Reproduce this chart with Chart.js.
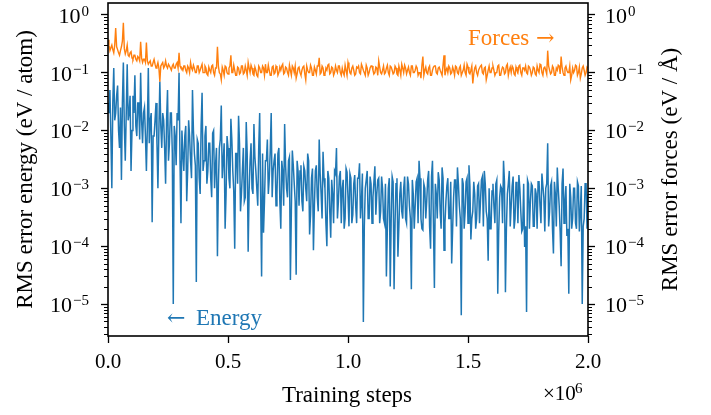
<!DOCTYPE html>
<html>
<head>
<meta charset="utf-8">
<script src="https://cdn.jsdelivr.net/npm/chart.js@4/dist/chart.umd.min.js"></script>
<style>
  html, body { margin: 0; padding: 0; background: #fff; }
  canvas { display: block; }
</style>
</head>
<body>
<canvas id="chart" width="711" height="415"></canvas>
<script>
// training step (in thousands) at which each error was recorded
const stepsK = [
  0,4,8,12,16,20,24,28,32,36,40,44,48,52,56,60,64,68,72,76,
  80,84,88,92,96,100,104,108,112,116,120,124,128,132,136,140,144,148,152,156,
  160,164,168,172,176,180,184,188,192,196,200,204,208,212,216,220,224,228,232,236,
  240,244,248,252,256,260,264,268,272,276,280,284,288,292,296,300,304,308,312,316,
  320,324,328,332,336,340,344,348,352,356,360,364,368,372,376,380,384,388,392,396,
  400,404,408,412,416,420,424,428,432,436,440,444,448,452,456,460,464,468,472,476,
  480,484,488,492,496,500,504,508,512,516,520,524,528,532,536,540,544,548,552,556,
  560,564,568,572,576,580,584,588,592,596,600,604,608,612,616,620,624,628,632,636,
  640,644,648,652,656,660,664,668,672,676,680,684,688,692,696,700,704,708,712,716,
  720,724,728,732,736,740,744,748,752,756,760,764,768,772,776,780,784,788,792,796,
  800,804,808,812,816,820,824,828,832,836,840,844,848,852,856,860,864,868,872,876,
  880,884,888,892,896,900,904,908,912,916,920,924,928,932,936,940,944,948,952,956,
  960,964,968,972,976,980,984,988,992,996,1000,1004,1008,1012,1016,1020,1024,1028,1032,1036,
  1040,1044,1048,1052,1056,1060,1064,1068,1072,1076,1080,1084,1088,1092,1096,1100,1104,1108,1112,1116,
  1120,1124,1128,1132,1136,1140,1144,1148,1152,1156,1160,1164,1168,1172,1176,1180,1184,1188,1192,1196,
  1200,1204,1208,1212,1216,1220,1224,1228,1232,1236,1240,1244,1248,1252,1256,1260,1264,1268,1272,1276,
  1280,1284,1288,1292,1296,1300,1304,1308,1312,1316,1320,1324,1328,1332,1336,1340,1344,1348,1352,1356,
  1360,1364,1368,1372,1376,1380,1384,1388,1392,1396,1400,1404,1408,1412,1416,1420,1424,1428,1432,1436,
  1440,1444,1448,1452,1456,1460,1464,1468,1472,1476,1480,1484,1488,1492,1496,1500,1504,1508,1512,1516,
  1520,1524,1528,1532,1536,1540,1544,1548,1552,1556,1560,1564,1568,1572,1576,1580,1584,1588,1592,1596,
  1600,1604,1608,1612,1616,1620,1624,1628,1632,1636,1640,1644,1648,1652,1656,1660,1664,1668,1672,1676,
  1680,1684,1688,1692,1696,1700,1704,1708,1712,1716,1720,1724,1728,1732,1736,1740,1744,1748,1752,1756,
  1760,1764,1768,1772,1776,1780,1784,1788,1792,1796,1800,1804,1808,1812,1816,1820,1824,1828,1832,1836,
  1840,1844,1848,1852,1856,1860,1864,1868,1872,1876,1880,1884,1888,1892,1896,1900,1904,1908,1912,1916,
  1920,1924,1928,1932,1936,1940,1944,1948,1952,1956,1960,1964,1968,1972,1976,1980,1984,1988,1992,1996,
  2000
];

// RMS error of the energy (eV / atom)
const energyErr = [
  3e-2,2e-2, 5e-2,8e-3, 1e-3,3e-2, 1.2e-1,1.5e-2, 2e-2,4e-2, 6e-2,1e-2, 5e-3,2.5e-2, 1.4e-3,3e-2, 1.5e-1,1.2e-2, 3e-3,2e-2,
  1.4e-1,1.5e-2, 2e-2,4e-2, 2e-3,1e-2, 4e-2,2e-2, 9e-2,1.2e-2, 8e-3,3e-2, 3e-2,7e-3, 1e-1,1.5e-2, 6e-3,2e-2, 2.5e-2,8e-3,
  2e-3,1.2e-2, 1.2e-1,6e-3, 1.5e-2,2e-2, 2.6e-4,8e-3, 8e-3,1.5e-2, 3e-2,6e-3, 1e-3,1e-2, 7e-2,1.2e-2, 5e-3,2e-2, 1.5e-2,5e-3,
  1.2e-3,1.5e-2, 5e-2,3e-3, 6e-3,2e-2, 2e-2,4e-3, 1e-5,1.2e-2, 8e-3,2.5e-3, 2e-2,1.5e-2, 1e-1,3e-3, 2.5e-4,1e-2, 4e-3,2e-3,
  8e-3,1.2e-2, 6e-4,2e-3, 1.5e-2,8e-3, 3e-3,1.5e-3, 5e-2,1e-2, 4e-3,2.5e-3, 2.4e-5,7e-3, 6e-3,1.5e-3, 8e-4,1.2e-2, 4.5e-2,2e-3,
  3e-3,8e-3, 1.2e-2,1.2e-3, 2e-3,6e-3, 6e-3,1.5e-3, 7e-4,9e-3, 1e-2,1e-3, 2.5e-3,5e-3, 6.7e-5,1.2e-3, 5e-3,7e-3, 2.7e-2,1.5e-3,
  3e-3,6e-3, 2e-4,8e-4, 8e-3,5e-3, 1.5e-3,1e-3, 1.6e-2,7e-3, 2e-3,9e-4, 9e-5,4e-3, 4e-3,1.2e-3, 1.8e-2,6e-3, 4e-4,8e-4,
  2e-3,5e-3, 6e-4,7e-4, 1.4e-2,4e-3, 8e-5,9e-4, 3e-3,6e-3, 1e-3,8e-4, 1.3e-2,3.5e-3, 2e-3,1e-3, 5e-4,5e-3, 2e-2,7e-4,
  3e-5,4e-3, 1.7e-4,6e-4, 3e-3,3e-3, 7e-3,8e-4, 1.5e-3,4.5e-3, 2e-2,7e-4, 2e-3,3e-3, 4e-3,5e-4, 8e-4,4e-3, 5e-3,6e-4,
  2e-4,3e-3, 2e-3,5e-4, 1.3e-2,2.5e-3, 1e-3,7e-4, 3e-3,3.5e-3, 2.6e-5,4e-4, 4.5e-3,2.5e-3, 1.2e-3,6e-4, 3.2e-5,3e-3, 2e-3,5e-4,
  2e-3,2.5e-3, 6e-4,4e-4, 2.4e-3,2e-3, 1e-3,6e-4, 4e-3,3e-3, 1.6e-4,3.5e-4, 1.5e-3,2.2e-3, 8.5e-5,5e-4, 2e-3,2.5e-3, 7e-4,4e-4,
  7e-3,1.8e-3, 8e-4,3e-4, 4.3e-3,1.5e-3, 1e-3,2.5e-4, 1e-4,2e-3, 1.5e-3,4e-4, 1.4e-4,1.4e-3, 8e-4,2.5e-4, 2e-3,1.8e-3, 5e-3,3e-4,
  6e-4,1.6e-3, 2e-3,2.5e-4, 1e-3,1.4e-3, 2e-4,3e-4, 2.2e-3,1.9e-3, 7e-4,2.2e-4, 1.8e-3,1.5e-3, 2.5e-4,3.5e-4, 1.2e-3,1.7e-3, 5e-4,2.5e-4,
  1.5e-3,1.5e-3, 2.7e-3,3e-4, 6e-4,1.8e-3, 4.9e-6,2.2e-4, 1e-3,1.4e-3, 2e-3,3e-4, 3e-4,1.6e-3, 1.2e-3,2.5e-4, 7e-4,1.3e-3, 2.4e-3,3.5e-4,
  8e-4,1.4e-3, 1.5e-3,2.5e-4, 4e-4,1.6e-3, 1e-3,3e-4, 2.5e-4,1.2e-3, 3e-5,2e-4, 1e-3,1.5e-3, 2e-5,3e-4, 1.6e-3,1.3e-3, 1.8e-5,2.5e-4,
  1.2e-3,1.5e-3, 6.6e-5,2.2e-4, 8e-4,1.3e-3, 4e-4,3e-4, 1e-3,1.6e-3, 3e-4,2.5e-4, 1.6e-3,1.2e-3, 5e-4,3e-4, 1.8e-5,1.4e-3, 8e-4,2e-4,
  5e-4,1.3e-3, 1.5e-3,2.5e-4, 3e-3,1.5e-3, 3e-4,2e-4, 1.9e-4,1.2e-3, 1e-3,3e-4, 6e-4,1.4e-3, 2e-3,2.2e-4, 9e-5,1.6e-3, 3e-3,2.5e-4,
  1.9e-5,1.2e-3, 8e-4,3e-4, 1.9e-3,1.4e-3, 4e-4,2e-4, 2.3e-3,1.5e-3, 8.5e-5,2.5e-4, 6e-4,1.1e-3, 1.5e-3,3e-4, 3e-4,1.3e-3, 5e-5,2e-4,
  7e-4,1.4e-3, 1.4e-3,2.2e-4, 2.3e-3,1.2e-3, 5e-4,3e-4, 6.4e-6,1.5e-3, 1.2e-3,2e-4, 4e-4,1.3e-3, 1.5e-3,2.5e-4, 2.5e-3,1.1e-3, 1.3e-4,3e-4,
  4e-4,1.3e-3, 8e-4,2e-4, 3e-4,1.1e-3, 1.2e-3,2.5e-4, 6e-4,1.4e-3, 1.6e-3,2.2e-4, 2e-3,1.2e-3, 4e-4,3e-4, 5.6e-5,1e-3, 2e-4,2e-4,
  9e-4,1.2e-3, 5e-4,2.5e-4, 1.2e-3,1.4e-3, 1.5e-5,1.8e-4, 7e-4,1.1e-3, 1e-3,2.5e-4, 3e-3,1.3e-3, 1.6e-5,2e-4, 8e-4,1.2e-3, 2e-3,2.2e-4,
  5e-4,1.1e-3, 1.6e-3,2e-4, 3e-4,1.3e-3, 1e-3,2.5e-4, 1.7e-3,1e-3, 4e-4,1.8e-4, 2e-4,1.2e-3, 9.7e-5,2.2e-4, 7.3e-6,1.4e-3, 1.2e-3,2e-4,
  6e-4,1.2e-3, 1.1e-3,2.2e-4, 2.2e-4,1e-3, 8e-4,2e-4, 1.3e-3,1.3e-3, 5e-4,2.5e-4, 1.8e-3,1.1e-3, 7e-4,1.8e-4, 1e-3,1.2e-3, 6e-3,2.2e-4,
  4e-4,1.1e-3, 1.3e-3,2e-4, 7.5e-5,1.3e-3, 8e-4,2.2e-4, 2.3e-3,1e-3, 5e-4,1.8e-4, 4.5e-5,1.2e-3, 2.2e-3,2.5e-4, 6e-4,1.1e-3, 1.5e-4,2e-4,
  1.5e-5,1.2e-3, 7e-4,2e-4, 3e-4,1e-3, 1e-3,2.5e-4, 2e-4,1.3e-3, 1.1e-3,1.8e-4, 4e-4,1.1e-3, 1e-5,2.2e-4, 3e-4,1.2e-3, 1.2e-3,2e-4,
  8e-4
];

// RMS error of the forces (eV / Å)
const forcesErr = [
  0.37,0.3, 0.24,0.27, 0.3,0.25, 0.22,0.3, 0.59,0.28, 0.25,0.22, 0.2,0.24, 0.28,0.35, 0.73,0.26, 0.21,0.24,
  0.3,0.2, 0.19,0.22, 0.23,0.18, 0.17,0.2, 0.2,0.17, 0.16,0.19, 0.18,0.16, 0.34,0.18, 0.15,0.17, 0.17,0.15,
  0.33,0.16, 0.14,0.15, 0.16,0.13, 0.13,0.15, 0.17,0.14, 0.12,0.13, 0.15,0.12, 0.07,0.13, 0.14,0.15, 0.12,0.13,
  0.16,0.13, 0.12,0.14, 0.13,0.12, 0.11,0.13, 0.14,0.12, 0.12,0.14, 0.15,0.12, 0.22,0.13, 0.12,0.12, 0.11,0.13,
  0.13,0.11, 0.1,0.13, 0.12,0.1, 0.15,0.12, 0.11,0.135, 0.12,0.1, 0.1,0.13, 0.13,0.1, 0.11,0.125, 0.14,0.1,
  0.1,0.13, 0.12,0.095, 0.09,0.125, 0.11,0.1, 0.13,0.135, 0.1,0.09, 0.12,0.12, 0.28,0.13, 0.1,0.095, 0.075,0.125,
  0.11,0.09, 0.13,0.125, 0.1,0.095, 0.12,0.13, 0.2,0.1, 0.1,0.135, 0.11,0.09, 0.09,0.125, 0.12,0.095, 0.1,0.13,
  0.13,0.095, 0.1,0.13, 0.11,0.09, 0.15,0.12, 0.1,0.135, 0.12,0.095, 0.09,0.125, 0.11,0.09, 0.085,0.13, 0.12,0.1,
  0.1,0.13, 0.12,0.09, 0.14,0.1, 0.1,0.135, 0.11,0.09, 0.09,0.125, 0.13,0.095, 0.1,0.13, 0.12,0.09, 0.1,0.125,
  0.11,0.13, 0.14,0.095, 0.1,0.125, 0.12,0.1, 0.09,0.135, 0.11,0.09, 0.13,0.12, 0.1,0.13, 0.08,0.095, 0.12,0.125,
  0.1,0.09, 0.11,0.125, 0.13,0.095, 0.075,0.13, 0.11,0.1, 0.1,0.135, 0.12,0.09, 0.09,0.125, 0.11,0.095, 0.13,0.13,
  0.18,0.095, 0.1,0.13, 0.12,0.09, 0.095,0.12, 0.11,0.135, 0.14,0.095, 0.1,0.125, 0.12,0.09, 0.1,0.13, 0.11,0.1,
  0.13,0.13, 0.1,0.09, 0.12,0.1, 0.09,0.135, 0.11,0.09, 0.15,0.125, 0.1,0.095, 0.12,0.13, 0.11,0.09, 0.095,0.125,
  0.12,0.13, 0.1,0.095, 0.14,0.125, 0.11,0.1, 0.09,0.135, 0.12,0.09, 0.1,0.12, 0.13,0.13, 0.11,0.095, 0.1,0.125,
  0.12,0.09, 0.16,0.125, 0.1,0.095, 0.11,0.13, 0.095,0.1, 0.12,0.135, 0.1,0.09, 0.13,0.125, 0.11,0.095, 0.1,0.13,
  0.12,0.095, 0.09,0.13, 0.11,0.09, 0.14,0.12, 0.1,0.135, 0.12,0.095, 0.11,0.125, 0.1,0.09, 0.13,0.13, 0.1,0.1,
  0.11,0.13, 0.12,0.09, 0.1,0.1, 0.08,0.135, 0.19,0.09, 0.11,0.125, 0.1,0.095, 0.12,0.13, 0.09,0.09, 0.11,0.125,
  0.13,0.13, 0.1,0.095, 0.12,0.125, 0.11,0.1, 0.09,0.135, 0.2,0.09, 0.11,0.12, 0.1,0.13, 0.12,0.095, 0.1,0.125,
  0.11,0.09, 0.13,0.125, 0.1,0.095, 0.12,0.13, 0.09,0.1, 0.11,0.135, 0.1,0.09, 0.14,0.125, 0.1,0.095, 0.11,0.13,
  0.065,0.095, 0.12,0.13, 0.1,0.09, 0.11,0.12, 0.13,0.135, 0.1,0.095, 0.12,0.125, 0.075,0.09, 0.11,0.13, 0.1,0.1,
  0.12,0.13, 0.11,0.09, 0.1,0.1, 0.13,0.135, 0.09,0.09, 0.11,0.125, 0.12,0.095, 0.1,0.13, 0.14,0.09, 0.11,0.125,
  0.1,0.13, 0.12,0.095, 0.09,0.125, 0.11,0.1, 0.13,0.135, 0.1,0.09, 0.12,0.12, 0.11,0.13, 0.1,0.095, 0.13,0.125,
  0.11,0.09, 0.1,0.125, 0.12,0.095, 0.09,0.13, 0.11,0.1, 0.14,0.135, 0.1,0.09, 0.12,0.125, 0.11,0.095, 0.24,0.13,
  0.11,0.095, 0.1,0.13, 0.12,0.09, 0.09,0.12, 0.11,0.135, 0.13,0.095, 0.19,0.125, 0.1,0.09, 0.12,0.13, 0.11,0.1,
  0.1,0.13, 0.075,0.09, 0.12,0.1, 0.11,0.135, 0.13,0.09, 0.1,0.125, 0.08,0.095, 0.12,0.13, 0.11,0.09, 0.1,0.125,
  0.12
];

// y axis decades that get a label, x axis tick positions
const yDecades = [1e-5, 1e-4, 1e-3, 1e-2, 1e-1, 1e0];
const xTicks = [0, 5e5, 1e6, 1.5e6, 2e6];

const yMin = 2.8e-6;
const yMax = 1.6;
const FONT = "'Liberation Serif', 'DejaVu Serif', serif";
const ARROW_FONT = "'DejaVu Serif', serif";
const BLUE = '#1f77b4';
const ORANGE = '#ff7f0e';

function decadeTicks(scale) {
    scale.ticks = yDecades.map(v => ({value: v, major: true}));
}

function noPad(s) {
    s.paddingTop = 0;
    s.paddingBottom = 0;
    s.paddingLeft = 0;
    s.paddingRight = 0;
}

// draws "10" with a raised exponent, right-aligned at x (left axis) or left-aligned (right axis)
function drawPow(ctx, v, x, y, alignRight) {
    const e = Math.round(Math.log10(v));
    const expText = String(e).replace('-', '\u2212');
    ctx.font = '15px ' + FONT;
    const ew = ctx.measureText(expText).width;
    ctx.font = '22px ' + FONT;
    const bw = ctx.measureText('10').width;
    const x0 = alignRight ? x - ew - bw - 1 : x;
    ctx.textAlign = 'left';
    ctx.fillText('10', x0, y + 8);
    ctx.font = '15px ' + FONT;
    ctx.fillText(expText, x0 + bw + 1, y + 1);
}

const decor = {
    id: 'decor',
    afterDraw(chart) {
        const ctx = chart.ctx;
        const a = chart.chartArea;
        ctx.save();

        // minor log ticks on both y axes
        ctx.strokeStyle = '#000';
        ctx.lineWidth = 1;
        ['y', 'y2'].forEach(id => {
            const s = chart.scales[id];
            for (let e = -6; e <= 0; e++) {
                for (let m = 2; m <= 9; m++) {
                    const v = m * Math.pow(10, e);
                    if (v < yMin || v > yMax) continue;
                    const py = Math.round(s.getPixelForValue(v)) + 0.5;
                    ctx.beginPath();
                    if (id === 'y') { ctx.moveTo(a.left - 4, py); ctx.lineTo(a.left, py); }
                    else { ctx.moveTo(a.right, py); ctx.lineTo(a.right + 4, py); }
                    ctx.stroke();
                }
            }
        });

        // frame
        ctx.lineWidth = 1.6;
        ctx.strokeRect(a.left, a.top, a.right - a.left, a.bottom - a.top);

        // decade labels
        ctx.fillStyle = '#000';
        ctx.textBaseline = 'alphabetic';
        yDecades.forEach(v => {
            drawPow(ctx, v, 89, chart.scales.y.getPixelForValue(v), true);
            drawPow(ctx, v, 605, chart.scales.y2.getPixelForValue(v), false);
        });

        // axis titles
        ctx.font = '23px ' + FONT;
        ctx.textAlign = 'center';
        ctx.fillText('Training steps', 347, 402);

        ctx.save();
        ctx.translate(32, (a.top + a.bottom) / 2);
        ctx.rotate(-Math.PI / 2);
        ctx.fillText('RMS error energy (eV / atom)', 0, 0);
        ctx.restore();

        ctx.save();
        ctx.translate(677, (a.top + a.bottom) / 2);
        ctx.rotate(-Math.PI / 2);
        ctx.fillText('RMS error forces (eV / \u00C5)', 0, 0);
        ctx.restore();

        // offset text of x axis
        ctx.textAlign = 'left';
        ctx.font = '21px ' + FONT;
        ctx.fillText('\u00D710', 543, 400);
        ctx.font = '15px ' + FONT;
        ctx.fillText('6', 575, 393);

        // series annotations
        ctx.font = '23px ' + FONT;
        ctx.fillStyle = ORANGE;
        ctx.fillText('Forces', 468, 45);
        ctx.font = '22px ' + ARROW_FONT;
        ctx.fillText('\u2192', 536, 45);
        ctx.fillStyle = BLUE;
        ctx.fillText('\u2190', 167, 325);
        ctx.font = '23px ' + FONT;
        ctx.fillText('Energy', 196, 325);

        ctx.restore();
    }
};

const tickFont = {family: FONT, size: 21};
const tickGrid = {drawOnChartArea: false, tickLength: 7, tickColor: '#000', tickWidth: 1.3};

new Chart(document.getElementById('chart').getContext('2d'), {
    type: 'line',
    data: {
        datasets: [
            {
                label: 'Forces',
                data: stepsK.map((s, i) => ({x: s * 1000, y: forcesErr[i]})),
                borderColor: ORANGE,
                borderWidth: 1.4,
                yAxisID: 'y2'
            },
            {
                label: 'Energy',
                data: stepsK.map((s, i) => ({x: s * 1000, y: energyErr[i]})),
                borderColor: BLUE,
                borderWidth: 1.5,
                yAxisID: 'y'
            }
        ]
    },
    options: {
        responsive: false,
        animation: false,
        devicePixelRatio: 1,
        layout: {padding: {top: 3, left: 0, right: 0, bottom: 0}},
        plugins: {legend: {display: false}, tooltip: {enabled: false}},
        elements: {
            point: {radius: 0},
            line: {tension: 0, fill: false}
        },
        scales: {
            x: {
                type: 'linear',
                min: 0,
                max: 2e6,
                afterFit: s => { s.height = 79; noPad(s); },
                afterBuildTicks: s => { s.ticks = xTicks.map(v => ({value: v})); },
                ticks: {
                    callback: v => (v / 1e6).toFixed(1),
                    font: tickFont, color: '#000', padding: 7,
                    maxRotation: 0, autoSkip: false
                },
                grid: tickGrid,
                border: {display: false}
            },
            y: {
                type: 'logarithmic',
                position: 'left',
                min: yMin,
                max: yMax,
                afterFit: s => { s.width = 108; noPad(s); },
                afterBuildTicks: decadeTicks,
                ticks: {callback: () => '', autoSkip: false},
                grid: tickGrid,
                border: {display: false}
            },
            y2: {
                type: 'logarithmic',
                position: 'right',
                min: yMin,
                max: yMax,
                afterFit: s => { s.width = 123; noPad(s); },
                afterBuildTicks: decadeTicks,
                ticks: {callback: () => '', autoSkip: false},
                grid: tickGrid,
                border: {display: false}
            }
        }
    },
    plugins: [decor]
});
</script>
</body>
</html>
